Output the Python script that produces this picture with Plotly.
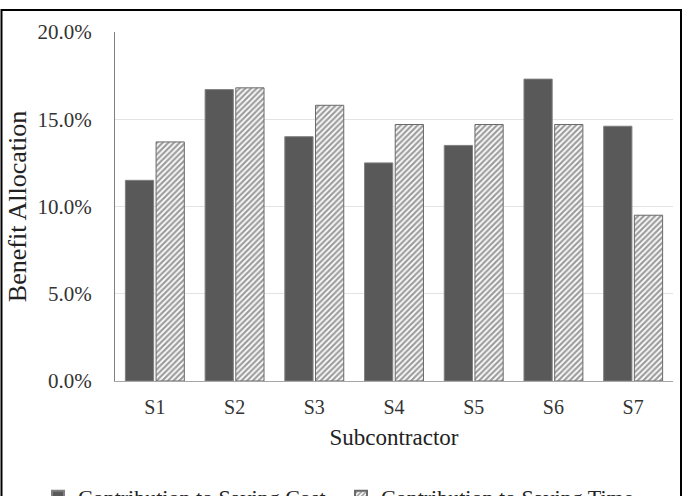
import plotly.graph_objects as go

categories = ["S1", "S2", "S3", "S4", "S5", "S6", "S7"]
saving_cost = [0.115, 0.167, 0.140, 0.125, 0.135, 0.173, 0.146]
saving_time = [0.137, 0.168, 0.158, 0.147, 0.147, 0.147, 0.095]
y_ticks = [0, 0.05, 0.10, 0.15, 0.20]

FONT = "Liberation Serif, Times New Roman, serif"

fig = go.Figure()
fig.add_trace(go.Bar(
    x=categories, y=saving_cost, name="Contribution to Saving Cost",
    marker=dict(color="#595959", line=dict(color="#808080", width=1)),
))
fig.add_trace(go.Bar(
    x=categories, y=saving_time, name="Contribution to Saving Time",
    marker=dict(color="white", line=dict(color="#6a6a6a", width=1),
                pattern=dict(shape="/", fgcolor="#3c3c3c", bgcolor="white",
                             size=4, solidity=0.55)),
))

L, R, T, B = 115, 13, 32, 115
W, H = 686, 496
pw, ph = W - L - R, H - T - B

def px_x(p):
    return (p - L) / pw

def px_y(p):
    return (H - B - p) / ph

fig.add_shape(type="rect", xref="paper", yref="paper",
              x0=px_x(1.5), x1=px_x(681), y0=px_y(600), y1=px_y(10),
              line=dict(color="black", width=2), fillcolor="rgba(0,0,0,0)",
              layer="above")

fig.update_layout(
    width=W, height=H,
    margin=dict(l=L, r=R, t=T, b=B, pad=0, autoexpand=False),
    paper_bgcolor="white", plot_bgcolor="white",
    barmode="group", bargap=0.23, bargroupgap=0.08,
    font=dict(family=FONT, size=20, color="#333333"),
    showlegend=True,
    legend=dict(orientation="h", x=px_x(38), xanchor="left",
                y=px_y(476), yanchor="top",
                entrywidth=258, entrywidthmode="pixels",
                font=dict(family=FONT, size=22, color="#222222"),
                bgcolor="rgba(0,0,0,0)", itemsizing="constant"),
    xaxis=dict(
        automargin=False,
        showgrid=False, showline=True, linecolor="#a6a6a6", linewidth=1,
        ticks="", tickfont=dict(family=FONT, size=20, color="#333333"),
        ticklabelstandoff=8,
        title=dict(text="Subcontractor", font=dict(family=FONT, size=23, color="#222222"),
                   standoff=11),
    ),
    yaxis=dict(
        automargin=False,
        range=[0, 0.20], tickvals=y_ticks, tickformat=".1%",
        showgrid=True, gridcolor="#e3e3e3", gridwidth=1,
        showline=True, linecolor="#7f7f7f", linewidth=1,
        zeroline=False, ticks="",
        tickfont=dict(family=FONT, size=21, color="#333333"),
        ticklabelstandoff=18,
        title=dict(text="Benefit Allocation", font=dict(family=FONT, size=26, color="#222222"),
                   standoff=3),
    ),
)

fig.write_html("out.html")
